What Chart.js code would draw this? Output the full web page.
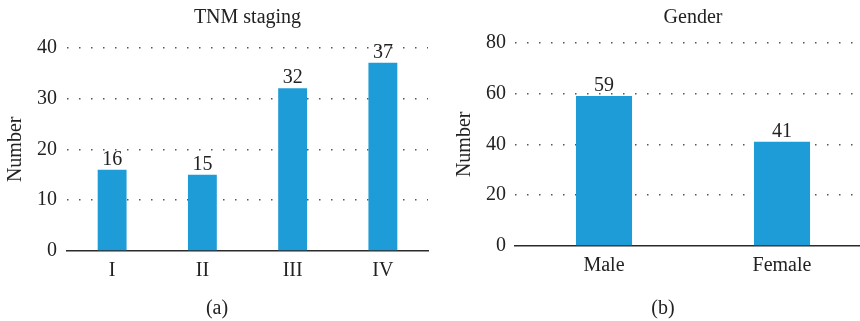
<!DOCTYPE html>
<html>
<head>
<meta charset="utf-8">
<script src="https://cdn.jsdelivr.net/npm/chart.js@4"></script>
<style>
  html, body { margin:0; padding:0; background:#fff; overflow:hidden; }
  #wrap { position:relative; width:860px; height:321px; overflow:hidden; }
  .box { position:absolute; top:0; height:321px; }
  .cap { position:absolute; top:296px; font:20px "Liberation Serif", serif; color:#222; transform:translateX(-50%); }
</style>
</head>
<body>
<div id="wrap">
  <div class="box" style="left:0;width:440px"><canvas id="chartA"></canvas></div>
  <div class="box" style="left:440px;width:431px"><canvas id="chartB"></canvas></div>
  <div class="cap" style="left:217px">(a)</div>
  <div class="cap" style="left:663px">(b)</div>
</div>
<script>
const STAGE_LABELS = ['I', 'II', 'III', 'IV'];
const STAGE_COUNTS = [16, 15, 32, 37];
const STAGE_TICKS = [0, 10, 20, 30, 40];

const GENDER_LABELS = ['Male', 'Female'];
const GENDER_COUNTS = [59, 41];
const GENDER_TICKS = [0, 20, 40, 60, 80];

const BAR_COLOR = '#1E9CD7';
const TEXT_COLOR = '#222';
const FONT = '"Liberation Serif", "Times New Roman", serif';
const FS = 20;

// value labels on top of bars
const valueLabels = {
  id: 'valueLabels',
  afterDatasetsDraw(chart) {
    const ctx = chart.ctx;
    const meta = chart.getDatasetMeta(0);
    ctx.save();
    ctx.font = FS + 'px ' + FONT;
    ctx.fillStyle = TEXT_COLOR;
    ctx.textAlign = 'center';
    ctx.textBaseline = 'alphabetic';
    meta.data.forEach((bar, i) => {
      ctx.fillText(chart.data.datasets[0].data[i], bar.x, bar.y - 5);
    });
    ctx.restore();
  }
};

function makeChart(id, w, labels, data, ticks, g) {
  const cv = document.getElementById(id);
  cv.width = w; cv.height = 321;
  cv.style.width = w + 'px'; cv.style.height = '321px';
  return new Chart(cv, {
    type: 'bar',
    data: { labels, datasets: [{ data, backgroundColor: BAR_COLOR, borderWidth: 0,
      categoryPercentage: 1, barPercentage: g.barPct }] },
    options: {
      responsive: false, animation: false,
      layout: { padding: { left: 0, top: 0, bottom: 0, right: g.padR } },
      plugins: {
        legend: { display: false }, tooltip: { enabled: false },
        title: { display: true, text: g.title, fullSize: false, color: TEXT_COLOR,
          font: { family: FONT, size: FS, weight: 'normal' },
          padding: { top: 6, bottom: g.titleGap } }
      },
      scales: {
        x: {
          grid: { display: false, drawTicks: false },
          border: { display: true, color: '#2b2b2b', width: 1.6 },
          ticks: { color: TEXT_COLOR, font: { family: FONT, size: FS }, padding: 8 },
          afterFit: s => { s.height = g.xH; }
        },
        y: {
          min: ticks[0], max: ticks[ticks.length - 1],
          afterBuildTicks: s => { s.ticks = ticks.map(v => ({ value: v })); },
          grid: { drawTicks: false, color: ctx => ctx.tick && ctx.tick.value === 0 ? 'rgba(0,0,0,0)' : '#555',
            lineWidth: 1.5, borderDash: [1.5, 10.5] },
          border: { display: false, dash: [1.5, 10.5] },
          ticks: { color: TEXT_COLOR, font: { family: FONT, size: FS }, padding: g.tickPad },
          title: { display: true, text: 'Number', color: TEXT_COLOR,
            font: { family: FONT, size: FS }, padding: { top: g.ytPad, bottom: 0 } },
          afterFit: s => { s.width = g.yW; }
        }
      }
    },
    plugins: [valueLabels]
  });
}

makeChart('chartA', 440, STAGE_LABELS, STAGE_COUNTS, STAGE_TICKS,
  { title: 'TNM staging', titleGap: 17.6, xH: 70, yW: 67, padR: 12, tickPad: 10, ytPad: 4, barPct: 0.32 });
makeChart('chartB', 431, GENDER_LABELS, GENDER_COUNTS, GENDER_TICKS,
  { title: 'Gender', titleGap: 12.6, xH: 75, yW: 75, padR: 0, tickPad: 9, ytPad: 13, barPct: 0.315 });
</script>
</body>
</html>
